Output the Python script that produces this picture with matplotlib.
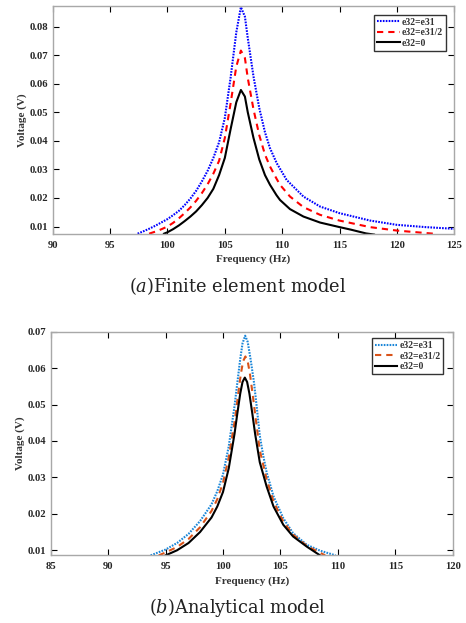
import matplotlib
matplotlib.use("Agg")
import matplotlib.pyplot as plt

# ---------------- data ----------------
# (a) Finite element model
fe_f_full = [97.4, 98.0, 98.5, 99.0, 99.5, 100.0, 100.5, 101.0, 101.5, 102.0, 102.5, 103.0,
             103.5, 104.0, 104.5, 105.0, 105.5, 106.0, 106.4, 106.75, 107.0, 107.5, 108.0,
             108.5, 108.94, 109.52, 110.39, 111.85, 113.3, 114.98, 117.65, 119.98, 122.5, 125.0]
fe_v_full = [0.0075, 0.0085, 0.0094, 0.0104, 0.0115, 0.0126, 0.0140, 0.0155, 0.0175, 0.0198,
             0.0225, 0.0258, 0.0295, 0.0340, 0.0395, 0.0480, 0.0620, 0.0780, 0.0868, 0.0835,
             0.0760, 0.0625, 0.0515, 0.0430, 0.0374, 0.0322, 0.0263, 0.0205, 0.0170, 0.0147,
             0.0121, 0.0106, 0.0098, 0.0092]

fe_f_half = [98.4, 99.0, 99.5, 100.0, 100.5, 101.0, 101.5, 102.0, 102.5, 103.0, 103.5, 104.0,
             104.5, 105.0, 105.5, 106.0, 106.4, 106.75, 107.0, 107.5, 108.0, 108.5, 108.94,
             109.5, 109.81, 110.68, 111.85, 113.3, 114.98, 117.65, 119.98, 122.6, 123.5]
fe_v_half = [0.0075, 0.0083, 0.0091, 0.0100, 0.0113, 0.0129, 0.0147, 0.0167, 0.0190, 0.0217,
             0.0248, 0.0285, 0.0330, 0.0410, 0.0530, 0.0660, 0.0716, 0.0690, 0.0620, 0.0510,
             0.0420, 0.0352, 0.0310, 0.0268, 0.0246, 0.0205, 0.0168, 0.0141, 0.0121, 0.0098,
             0.0086, 0.0077, 0.0074]

fe_f_zero = [99.7, 100.0, 100.5, 101.0, 101.5, 102.0, 102.5, 103.0, 103.5, 104.0, 104.5, 105.0,
             105.5, 106.0, 106.4, 106.75, 107.0, 107.5, 108.0, 108.5, 108.94, 109.5, 109.81,
             110.68, 111.85, 113.3, 115.0, 116.0, 117.3, 118.0]
fe_v_zero = [0.0075, 0.0080, 0.0091, 0.0104, 0.0119, 0.0135, 0.0153, 0.0175, 0.0200, 0.0232,
             0.0280, 0.0340, 0.0440, 0.0535, 0.0578, 0.0555, 0.0500, 0.0410, 0.0335, 0.0280,
             0.0246, 0.0210, 0.0193, 0.0161, 0.0135, 0.0114, 0.0098, 0.0089, 0.0076, 0.0072]

# (b) Analytical model
an_f_full = [93.7, 95.0, 96.0, 97.0, 98.0, 99.0, 99.5, 100.0, 100.5, 101.0, 101.25, 101.5,
             101.7, 101.93, 102.15, 102.4, 102.7, 102.95, 103.2, 103.5, 103.8, 104.4, 105.25,
             106.1, 107.3, 108.45, 109.8]
an_v_full = [0.0086, 0.0102, 0.0120, 0.0145, 0.0180, 0.0226, 0.0262, 0.0308, 0.0385, 0.0495,
             0.0560, 0.0625, 0.0668, 0.0689, 0.0672, 0.0625, 0.0560, 0.0490, 0.0415, 0.0360,
             0.0314, 0.0248, 0.0188, 0.0147, 0.0115, 0.0099, 0.0086]

an_f_half = [94.4, 95.0, 96.0, 97.0, 98.0, 99.0, 99.5, 100.0, 100.5, 101.05, 101.3, 101.55,
             101.75, 101.95, 102.15, 102.35, 102.6, 102.85, 103.2, 103.8, 104.4, 105.25,
             106.1, 107.3, 108.9]
an_v_half = [0.0086, 0.0094, 0.0109, 0.0131, 0.0163, 0.0208, 0.0240, 0.0285, 0.0355, 0.0461,
             0.0524, 0.0583, 0.0619, 0.0632, 0.0619, 0.0583, 0.0524, 0.0461, 0.0375, 0.0295,
             0.0234, 0.0179, 0.0143, 0.0112, 0.0086]

an_f_zero = [95.0, 96.0, 97.0, 98.0, 99.0, 99.5, 100.0, 100.5, 101.0, 101.25, 101.5, 101.7,
             101.9, 102.1, 102.3, 102.55, 102.8, 103.2, 103.8, 104.4, 105.25, 106.1, 107.3,
             108.45]
an_v_zero = [0.0086, 0.0100, 0.0120, 0.0150, 0.0190, 0.0220, 0.0260, 0.0325, 0.0419, 0.0476,
             0.0530, 0.0562, 0.0574, 0.0562, 0.0530, 0.0476, 0.0419, 0.0342, 0.0275, 0.0220,
             0.0170, 0.0138, 0.0110, 0.0086]

labels = ["e32=e31", "e32=e31/2", "e32=0"]

fe_xticks = [90, 95, 100, 105, 110, 115, 120, 125]
fe_yticks = [0.01, 0.02, 0.03, 0.04, 0.05, 0.06, 0.07, 0.08]
an_xticks = [85, 90, 95, 100, 105, 110, 115, 120]
an_yticks = [0.01, 0.02, 0.03, 0.04, 0.05, 0.06, 0.07]

captions = [r"$(a)$Finite element model", r"$(b)$Analytical model"]

# ---------------- drawing ----------------
plt.rcParams['font.family'] = ['Liberation Serif', 'DejaVu Serif']
plt.rcParams['mathtext.fontset'] = 'dejavuserif'

fig = plt.figure(figsize=(4.66, 6.23), dpi=100)
ax1 = fig.add_axes([0.1131, 0.6249, 0.8618, 0.3655])
ax2 = fig.add_axes([0.1088, 0.1087, 0.8627, 0.3589])

spine_col = '#a8a8a8'
lw = 1.5


def style(ax, xticks, yticks, xlim, ylim):
    ax.set_xlim(*xlim)
    ax.set_ylim(*ylim)
    ax.set_xticks(xticks)
    ax.set_yticks(yticks)
    ax.set_xticklabels([str(t) for t in xticks])
    ax.set_yticklabels([f"{t:.2f}" for t in yticks])
    ax.tick_params(direction='in', length=4, width=0.8, color='k',
                   top=True, right=True, labelsize=7.7)
    ax.tick_params(axis='x', pad=5)
    ax.tick_params(axis='y', pad=3)
    for lab in ax.get_xticklabels() + ax.get_yticklabels():
        lab.set_fontweight('bold')
        lab.set_color('#262626')
    for s in ax.spines.values():
        s.set_color(spine_col)
        s.set_linewidth(1.0)
    ax.set_xlabel("Frequency (Hz)", fontsize=8, fontweight='bold', color='#333333', labelpad=3.5)
    ax.set_ylabel("Voltage (V)", fontsize=8, fontweight='bold', color='#333333', labelpad=2)


# top panel
ax1.plot(fe_f_full, fe_v_full, color='#0000ff', lw=lw, linestyle=(0, (0.8, 0.6)), label=labels[0])
ax1.plot(fe_f_half, fe_v_half, color='#ff0000', lw=lw, linestyle=(0, (3.0, 2.4)), label=labels[1])
ax1.plot(fe_f_zero, fe_v_zero, color='k', lw=lw, linestyle='-', label=labels[2])
style(ax1, fe_xticks, fe_yticks, (90, 125), (0.0075, 0.0872))

# bottom panel
ax2.plot(an_f_full, an_v_full, color='#1a86d8', lw=lw, linestyle=(0, (0.8, 0.6)), label=labels[0])
ax2.plot(an_f_half, an_v_half, color='#D95319', lw=lw, linestyle=(0, (3.0, 2.4)), label=labels[1])
ax2.plot(an_f_zero, an_v_zero, color='k', lw=lw, linestyle='-', label=labels[2])
style(ax2, an_xticks, an_yticks, (85, 120), (0.00863, 0.07))

for ax, anchor in ((ax1, (0.9786, 0.9605)), (ax2, (0.9766, 0.9705))):
    leg = ax.legend(loc='upper right', bbox_to_anchor=anchor,
                    prop={'weight': 'bold', 'size': 7}, handlelength=2.3,
                    handletextpad=0.2, borderpad=0.3, labelspacing=0.15,
                    borderaxespad=0.0, fancybox=False, framealpha=1)
    leg.get_frame().set_edgecolor('#333333')
    leg.get_frame().set_linewidth(1.0)
    for t in leg.get_texts():
        t.set_color('#333333')

fig.text(0.511, 0.541, captions[0], ha='center', va='center',
         fontsize=12.8, family='DejaVu Serif', color='#222222')
fig.text(0.51, 0.0246, captions[1], ha='center', va='center',
         fontsize=12.8, family='DejaVu Serif', color='#222222')

fig.savefig("out.png", dpi=100)
